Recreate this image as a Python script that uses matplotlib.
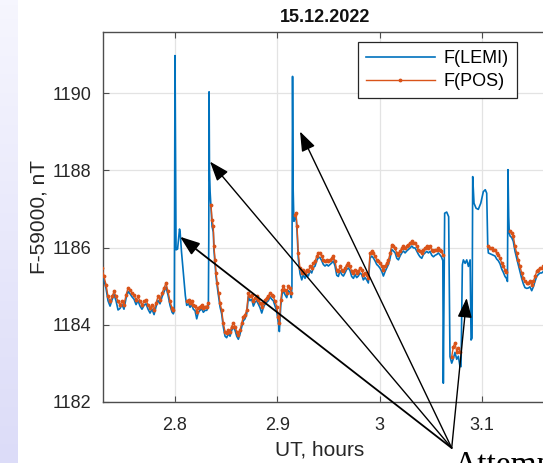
import numpy as np
import matplotlib
matplotlib.use("Agg")
import matplotlib.pyplot as plt
from matplotlib.ticker import FixedLocator

nan = np.nan

# UT (hours), F(LEMI) and F(POS) minus 59000 nT; POS is NaN where it has no data
ut = [
    2.7286, 2.7306, 2.7326, 2.7345, 2.7365, 2.7384, 2.7404, 2.7423, 2.7443, 2.7462,
    2.7482, 2.7501, 2.7521, 2.7541, 2.7560, 2.7580, 2.7599, 2.7619, 2.7638, 2.7658,
    2.7677, 2.7697, 2.7717, 2.7736, 2.7756, 2.7775, 2.7795, 2.7814, 2.7834, 2.7853,
    2.7873, 2.7892, 2.7912, 2.7932, 2.7951, 2.7971, 2.7983,
    2.7993, 2.8000, 2.8010, 2.8025, 2.8039, 2.8044, 2.8050, 2.8063, 2.8081, 2.8101,
    2.8114, 2.8132, 2.8147, 2.8163, 2.8179, 2.8196, 2.8212, 2.8228, 2.8244, 2.8261,
    2.8277, 2.8293, 2.8310, 2.8326,
    2.8330, 2.8333, 2.8337, 2.8343,
    2.8352, 2.8362, 2.8374, 2.8381, 2.8391, 2.8401, 2.8413, 2.8427, 2.8440, 2.8456,
    2.8472, 2.8489, 2.8505, 2.8521, 2.8538, 2.8554, 2.8570, 2.8587, 2.8603, 2.8619,
    2.8635, 2.8652, 2.8668, 2.8684, 2.8701, 2.8717, 2.8733, 2.8750, 2.8766, 2.8782,
    2.8799, 2.8815, 2.8831, 2.8848, 2.8864, 2.8880, 2.8896, 2.8912, 2.8929, 2.8945,
    2.8961, 2.8978, 2.8994, 2.9010, 2.9020, 2.9034, 2.9046, 2.9059, 2.9075, 2.9092,
    2.9108, 2.9124, 2.9137,
    2.9143, 2.9149, 2.9155, 2.9162,
    2.9173, 2.9183, 2.9193, 2.9205, 2.9222, 2.9239, 2.9254, 2.9271, 2.9287, 2.9303,
    2.9320, 2.9336, 2.9352, 2.9369, 2.9385, 2.9401, 2.9417, 2.9434, 2.9450, 2.9466,
    2.9483, 2.9499, 2.9515, 2.9532, 2.9548, 2.9564, 2.9581, 2.9597, 2.9613, 2.9630,
    2.9646, 2.9662, 2.9678, 2.9695, 2.9711, 2.9727, 2.9744, 2.9760, 2.9776, 2.9792,
    2.9808, 2.9825, 2.9841, 2.9858, 2.9874, 2.9890, 2.9906, 2.9923, 2.9939, 2.9956,
    2.9972, 2.9988, 3.0005, 3.0021, 3.0037, 3.0054, 3.0070, 3.0086, 3.0103, 3.0119,
    3.0135, 3.0152, 3.0168, 3.0184, 3.0200, 3.0217, 3.0233, 3.0249, 3.0265, 3.0282,
    3.0298, 3.0315, 3.0331, 3.0347, 3.0363, 3.0380, 3.0395, 3.0412, 3.0428, 3.0444,
    3.0461, 3.0477, 3.0493, 3.0510, 3.0526, 3.0543, 3.0559, 3.0575, 3.0592, 3.0604,
    3.0618,
    3.0623, 3.0636, 3.0656, 3.0675, 3.0688,
    3.0705, 3.0721, 3.0737, 3.0754, 3.0770, 3.0786,
    3.0796, 3.0809, 3.0819, 3.0836, 3.0852, 3.0868, 3.0885, 3.0894, 3.0904, 3.0910,
    3.0923, 3.0943, 3.0965, 3.0989, 3.1014, 3.1033, 3.1047, 3.1057,
    3.1063, 3.1079, 3.1096, 3.1111, 3.1128, 3.1145, 3.1160, 3.1177, 3.1194, 3.1209,
    3.1226, 3.1240,
    3.1250, 3.1255, 3.1262, 3.1268,
    3.1275, 3.1291, 3.1307, 3.1324, 3.1340, 3.1356, 3.1372, 3.1389, 3.1405, 3.1421,
    3.1438, 3.1454, 3.1470, 3.1487, 3.1503, 3.1519, 3.1536, 3.1551, 3.1568, 3.1585,
    3.1600, 3.1617, 3.1640, 3.1670,
]

f_lemi = [
    1185.38, 1185.15, 1184.93, 1184.62, 1184.48, 1184.64, 1184.78, 1184.62, 1184.38, 1184.42,
    1184.52, 1184.40, 1184.68, 1184.86, 1184.80, 1184.72, 1184.66, 1184.52, 1184.62, 1184.48,
    1184.40, 1184.50, 1184.54, 1184.40, 1184.30, 1184.40, 1184.26, 1184.46, 1184.63, 1184.54,
    1184.72, 1184.85, 1184.98, 1184.76, 1184.50, 1184.32, 1184.28,
    1184.35, 1190.98, 1185.94, 1185.96, 1186.35, 1186.48, 1186.40, 1185.90, 1185.34, 1184.75,
    1184.50, 1184.54, 1184.45, 1184.52, 1184.40, 1184.36, 1184.15, 1184.32, 1184.37, 1184.41,
    1184.32, 1184.37, 1184.37, 1184.46,
    1186.20, 1190.04, 1188.00, 1187.45,
    1187.00, 1186.55, 1186.40, 1185.92, 1185.58, 1185.24, 1184.98, 1184.72, 1184.46, 1184.28,
    1183.94, 1183.70, 1183.66, 1183.76, 1183.70, 1183.85, 1183.94, 1183.85, 1183.70, 1183.62,
    1183.75, 1183.94, 1184.10, 1184.15, 1184.28, 1184.72, 1184.62, 1184.66, 1184.48, 1184.58,
    1184.62, 1184.53, 1184.44, 1184.30, 1184.45, 1184.53, 1184.58, 1184.62, 1184.72, 1184.66,
    1184.62, 1184.48, 1184.35, 1184.05, 1183.82, 1184.50, 1184.78, 1184.88, 1184.78, 1184.70,
    1184.88, 1184.84, 1184.70,
    1185.00, 1190.44, 1187.50, 1186.68,
    1186.75, 1186.80, 1186.42, 1185.72, 1185.32, 1185.16, 1185.30, 1185.20, 1185.30, 1185.26,
    1185.40, 1185.34, 1185.48, 1185.52, 1185.66, 1185.74, 1185.74, 1185.66, 1185.56, 1185.52,
    1185.56, 1185.52, 1185.56, 1185.60, 1185.65, 1185.52, 1185.28, 1185.25, 1185.40, 1185.30,
    1185.26, 1185.34, 1185.43, 1185.47, 1185.40, 1185.25, 1185.20, 1185.30, 1185.22, 1185.26,
    1185.34, 1185.30, 1185.16, 1185.22, 1185.16, 1185.08, 1185.72, 1185.78, 1185.73, 1185.65,
    1185.56, 1185.52, 1185.46, 1185.38, 1185.26, 1185.38, 1185.47, 1185.56, 1185.73, 1185.95,
    1185.91, 1185.86, 1185.72, 1185.68, 1185.78, 1185.86, 1185.91, 1185.86, 1185.91, 1185.95,
    1185.99, 1186.04, 1185.99, 1185.99, 1185.91, 1185.82, 1185.76, 1185.72, 1185.82, 1185.86,
    1185.90, 1185.86, 1185.90, 1185.80, 1185.76, 1185.80, 1185.82, 1185.86, 1185.80, 1185.76,
    1185.66,
    1182.48, 1186.89, 1186.92, 1186.80, 1183.17,
    1183.00, 1183.12, 1183.28, 1183.10, 1183.18, 1182.91,
    1182.91, 1185.55, 1185.68, 1185.59, 1185.68, 1185.51, 1185.68, 1183.60, 1183.65, 1187.84,
    1187.15, 1187.02, 1186.99, 1187.15, 1187.45, 1187.50, 1187.41, 1186.07,
    1185.86, 1185.84, 1185.82, 1185.80, 1185.78, 1185.70, 1185.66, 1185.58, 1185.44, 1185.36,
    1185.25, 1185.20,
    1185.12, 1188.02, 1186.80, 1186.37,
    1186.30, 1186.26, 1186.16, 1185.90, 1185.72, 1185.55, 1185.38, 1185.20, 1185.06, 1184.96,
    1184.94, 1184.95, 1184.98, 1184.88, 1184.98, 1185.12, 1185.25, 1185.30, 1185.34, 1185.34,
    1185.38, 1185.42, 1185.48, 1185.50,
]

f_pos = [
    1185.46, 1185.25, 1185.03, 1184.73, 1184.60, 1184.73, 1184.86, 1184.73, 1184.60, 1184.51,
    1184.60, 1184.51, 1184.77, 1184.95, 1184.90, 1184.82, 1184.77, 1184.64, 1184.73, 1184.60,
    1184.51, 1184.60, 1184.64, 1184.51, 1184.43, 1184.51, 1184.38, 1184.56, 1184.73, 1184.64,
    1184.82, 1184.95, 1185.08, 1184.86, 1184.60, 1184.43, 1184.38,
    nan, nan, nan, nan, nan, nan, nan, nan, nan, nan,
    1184.60, 1184.64, 1184.56, 1184.62, 1184.51, 1184.49, 1184.34, 1184.43, 1184.47, 1184.51,
    1184.43, 1184.47, 1184.47, 1184.56,
    nan, nan, nan, nan,
    1187.11, 1186.72, 1186.55, 1186.03, 1185.68, 1185.34, 1185.08, 1184.82, 1184.56, 1184.38,
    1184.04, 1183.82, 1183.78, 1183.86, 1183.82, 1183.95, 1184.04, 1183.95, 1183.82, 1183.73,
    1183.86, 1184.04, 1184.21, 1184.25, 1184.38, 1184.82, 1184.73, 1184.77, 1184.60, 1184.69,
    1184.73, 1184.64, 1184.56, 1184.47, 1184.56, 1184.64, 1184.69, 1184.73, 1184.82, 1184.77,
    1184.73, 1184.60, 1184.47, 1184.21, 1184.04, 1184.64, 1184.90, 1184.99, 1184.90, 1184.82,
    1184.99, 1184.95, 1184.82,
    nan, nan, nan, nan,
    1186.85, 1186.89, 1186.55, 1185.85, 1185.46, 1185.34, 1185.42, 1185.34, 1185.42, 1185.38,
    1185.51, 1185.46, 1185.59, 1185.64, 1185.77, 1185.85, 1185.85, 1185.77, 1185.68, 1185.64,
    1185.68, 1185.64, 1185.68, 1185.72, 1185.77, 1185.64, 1185.42, 1185.38, 1185.51, 1185.42,
    1185.38, 1185.46, 1185.55, 1185.59, 1185.51, 1185.38, 1185.34, 1185.42, 1185.34, 1185.38,
    1185.46, 1185.42, 1185.29, 1185.34, 1185.29, 1185.21, 1185.85, 1185.90, 1185.85, 1185.77,
    1185.68, 1185.64, 1185.59, 1185.51, 1185.42, 1185.51, 1185.59, 1185.68, 1185.85, 1186.07,
    1186.03, 1185.98, 1185.85, 1185.81, 1185.90, 1185.98, 1186.03, 1185.98, 1186.03, 1186.07,
    1186.11, 1186.16, 1186.11, 1186.11, 1186.03, 1185.94, 1185.90, 1185.85, 1185.94, 1185.98,
    1186.03, 1185.98, 1186.03, 1185.94, 1185.90, 1185.94, 1185.94, 1185.98, 1185.94, 1185.90,
    1185.81,
    nan, nan, nan, nan, nan,
    1183.17, 1183.43, 1183.52, 1183.30, 1183.40, 1183.30,
    nan, nan, nan, nan, nan, nan, nan, nan, nan, nan,
    nan, nan, nan, nan, nan, nan, nan, nan,
    1186.03, 1185.98, 1185.98, 1185.94, 1185.94, 1185.85, 1185.81, 1185.72, 1185.59, 1185.51,
    1185.42, 1185.37,
    nan, nan, nan, nan,
    1186.42, 1186.37, 1186.29, 1186.03, 1185.85, 1185.68, 1185.51, 1185.34, 1185.21, 1185.12,
    1185.08, 1185.08, 1185.12, 1185.03, 1185.12, 1185.25, 1185.38, 1185.42, 1185.46, 1185.46,
    1185.51, 1185.55, 1185.60, 1185.62,
]

# arrow targets (UT, nT) and common tail (figure pixels)
arrow_tips = [(2.8049, 1186.28), (2.8342, 1188.23), (2.9222, 1189.01), (3.0851, 1184.69)]
arrow_tail_px = (451.7, 15.0)

xticks = [2.8, 2.9, 3.0, 3.1, 3.2]
xtick_labels = ["2.8", "2.9", "3", "3.1", "3.2"]
yticks = [1182, 1184, 1186, 1188, 1190]

plt.rcParams["font.family"] = ["Liberation Sans", "DejaVu Sans"]

W, H = 543, 463
fig = plt.figure(figsize=(W / 100, H / 100), dpi=100)

# slide background strip on the left
bg = fig.add_axes([0, 0, 18 / W, 1])
grad = np.linspace(0, 1, 100).reshape(-1, 1)
bg.imshow(grad, aspect="auto", cmap=matplotlib.colors.LinearSegmentedColormap.from_list(
    "lav", ["#f6f6fe", "#dcdcf8"]), extent=[0, 1, 0, 1], origin="upper")
bg.axis("off")

ax = fig.add_axes([102.7 / W, (H - 401.7) / H, (558 - 102.7) / W, (401.7 - 31.7) / H])
ax.plot(ut, f_lemi, color="#0072BD", lw=1.2, label="F(LEMI)", zorder=3)
ax.plot(ut, f_pos, color="#D95319", lw=1.0, marker=".", ms=3.5, label="F(POS)", zorder=4)

ax.set_xlim(2.7293, 3.1744)
ax.set_ylim(1182, 1191.6)
ax.xaxis.set_major_locator(FixedLocator(xticks))
ax.set_xticklabels(xtick_labels)
ax.yaxis.set_major_locator(FixedLocator(yticks))
ax.grid(True, color="#e3e3e3", lw=0.9)
ax.set_axisbelow(True)
for s in ax.spines.values():
    s.set_color("#4d4d4d")
    s.set_linewidth(1.0)
ax.tick_params(direction="in", length=4, width=0.8, color="#4d4d4d", top=True,
               labelsize=13, labelcolor="#262626")
ax.tick_params(axis="x", pad=11)
ax.tick_params(axis="y", pad=8)
ax.set_ylabel("F-59000, nT", fontsize=15, color="#262626", labelpad=3)

fig.text(320 / W, 1 - 450 / H, "UT, hours", fontsize=15, color="#262626",
         ha="center", va="center")
fig.text(325 / W, 1 - 17 / H, "15.12.2022", fontsize=13, fontweight="bold",
         color="#111111", ha="center", va="center")

leg = ax.legend(loc="upper right", bbox_to_anchor=(517 / W, 1 - 41.7 / H),
                bbox_transform=fig.transFigure, fancybox=False, framealpha=1,
                edgecolor="#262626", fontsize=13, handlelength=3.8,
                handletextpad=0.5, borderpad=0.45, labelspacing=0.35, borderaxespad=0)
leg.get_frame().set_linewidth(0.9)

for i, (tx, ty) in enumerate(arrow_tips):
    ax.annotate("", xy=(tx, ty), xycoords="data",
                xytext=arrow_tail_px, textcoords="figure pixels",
                arrowprops=dict(arrowstyle="-|>,head_length=0.6,head_width=0.22",
                                color="black", lw=1.3 if i == 0 else 1.0,
                                mutation_scale=20, shrinkA=0, shrinkB=0),
                annotation_clip=False, zorder=6)

fig.text(454 / W, -11 / H, "Attempts", fontsize=24, family="Liberation Serif",
         color="black", va="baseline", ha="left")

fig.savefig("out.png", dpi=100)
